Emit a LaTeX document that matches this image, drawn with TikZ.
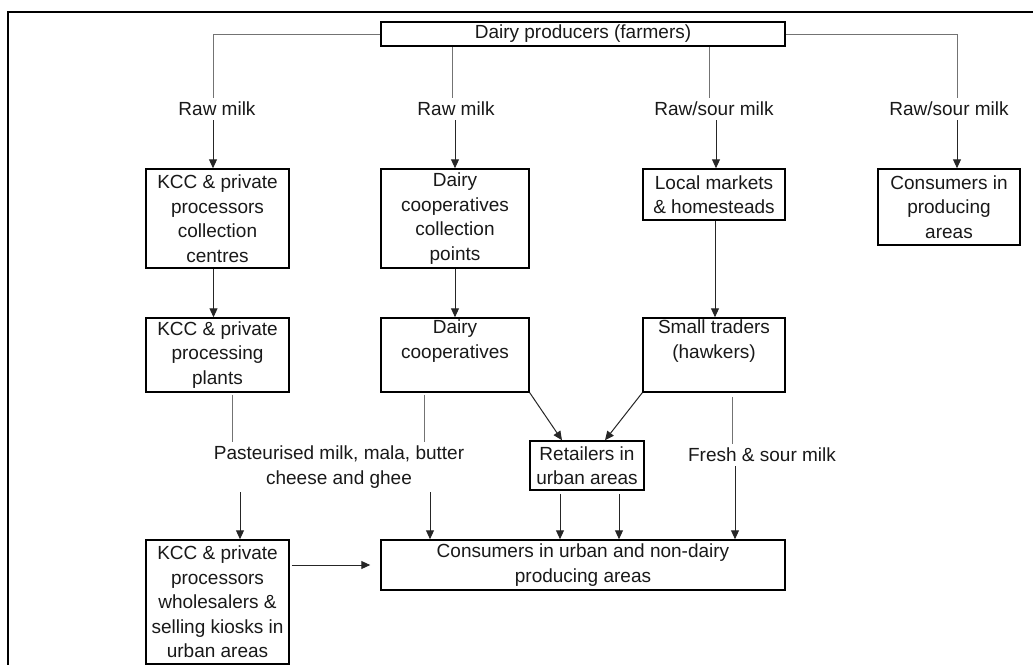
\documentclass[tikz,border=0pt]{standalone}
\usepackage{fontspec}
\setmainfont{Liberation Sans}
\usetikzlibrary{arrows.meta}
\begin{document}
\begin{tikzpicture}[x=1pt,y=-1pt,
  every node/.style={font=\fontsize{19}{24.5}\selectfont, text=black!90},
  box/.style={draw, line width=1.5pt, rectangle, inner sep=0pt, align=center},
  lbl/.style={inner sep=4pt, align=center},
  thinline/.style={draw=black!55, line width=1pt},
  arr/.style={draw=black!85, line width=1pt, -{Triangle[length=9pt,width=8pt]}}]
\useasboundingbox (0,0) rectangle (1033,664);
\fill[white] (0,0) rectangle (1033,664);
\draw[line width=2pt] (1045,12) -- (8,12) -- (8,680);
% boxes
\node[box, minimum width=404, minimum height=24] (top) at (583,34) {Dairy producers (farmers)};
\node[box, minimum width=143, minimum height=99] (b1) at (217.5,218.5) {KCC \& private\\processors\\collection\\centres};
\node[box, minimum width=148, minimum height=99] (b2) at (455,218.5) {Dairy\\cooperatives\\collection\\points};
\node[box, minimum width=142, minimum height=51] (b3) at (714,194.5) {Local markets\\\& homesteads};
\node[box, minimum width=142, minimum height=76] (b4) at (949,207) {Consumers in\\producing\\areas};
\node[box, minimum width=143, minimum height=74] (c1) at (217.5,355) {KCC \& private\\processing\\plants};
\node[box, minimum width=148, minimum height=74] (c2) at (455,355) {Dairy\\cooperatives\\\strut};
\node[box, minimum width=142, minimum height=74] (c3) at (714,355) {Small traders\\(hawkers)\\\strut};
\node[box, minimum width=114, minimum height=49] (ret) at (587,465.5) {Retailers in\\urban areas};
\node[box, minimum width=143, minimum height=124] (w) at (217.5,602) {KCC \& private\\processors\\wholesalers \&\\selling kiosks in\\urban areas};
\node[box, minimum width=404, minimum height=50] (cons) at (583,565) {Consumers in urban and non-dairy\\producing areas};
% labels
\node[lbl] (l1) at (217,109) {Raw milk};
\node[lbl] (l2) at (456,109) {Raw milk};
\node[lbl] (l3) at (714,109) {Raw/sour milk};
\node[lbl] (l4) at (949,109) {Raw/sour milk};
\node[lbl] (past) at (339,467) {Pasteurised milk, mala, butter\\cheese and ghee};
\node[lbl] (fresh) at (762,455) {Fresh \& sour milk};
% connectors from producers
\draw[thinline] (top.west) -| ([xshift=-4pt]l1.north);
\draw[arr] ([xshift=-4pt]l1.south) -- ([xshift=-4pt]l1.south |- b1.north);
\draw[thinline] ([xshift=-4pt]l2.north |- top.south) -- ([xshift=-4pt]l2.north);
\draw[arr] ([xshift=-1pt]l2.south) -- ([xshift=-1pt]l2.south |- b2.north);
\draw[thinline] ([xshift=-5pt]l3.north |- top.south) -- ([xshift=-5pt]l3.north);
\draw[arr] ([xshift=2pt]l3.south) -- ([xshift=2pt]l3.south |- b3.north);
\draw[thinline] (top.east) -| ([xshift=8pt]l4.north);
\draw[arr] ([xshift=8pt]l4.south) -- ([xshift=8pt]l4.south |- b4.north);
% row 2 to row 3
\draw[arr] ([xshift=-4pt]b1.south) -- ([xshift=-4pt]b1.south |- c1.north);
\draw[arr] (b2.south) -- (c2.north);
\draw[arr] ([xshift=1pt]b3.south) -- ([xshift=1pt]b3.south |- c3.north);
% to retailers
\draw[arr] (c2.south east) -- ([xshift=-25pt]ret.north);
\draw[arr] (c3.south west) -- ([xshift=18pt]ret.north);
% retailers to consumers
\draw[arr] ([xshift=-27pt,yshift=-3pt]ret.south) -- ([xshift=-27pt]ret.south |- cons.north);
\draw[arr] ([xshift=32pt,yshift=-3pt]ret.south) -- ([xshift=32pt]ret.south |- cons.north);
% small traders to consumers
\draw[thinline] ([xshift=18pt,yshift=-4pt]c3.south) -- ([xshift=18pt]c3.south |- fresh.north);
\draw[arr] ([xshift=-27pt]fresh.south) -- ([xshift=-27pt]fresh.south |- cons.north);
% processed products
\draw[thinline] ([xshift=14.5pt,yshift=-2pt]c1.south) -- ([xshift=14.5pt]c1.south |- past.north);
\draw[arr] ([xshift=22.5pt]c1.south |- past.south) -- ([xshift=22.5pt]w.north);
\draw[thinline] ([xshift=-31pt,yshift=-2pt]c2.south) -- ([xshift=-31pt]c2.south |- past.north);
\draw[arr] ([xshift=-25pt]c2.south |- past.south) -- ([xshift=-25pt]c2.south |- cons.north);
% wholesalers to consumers
\draw[arr] ([xshift=2pt]w.east |- cons.west) -- ([xshift=-10pt]cons.west);
\end{tikzpicture}
\end{document}
